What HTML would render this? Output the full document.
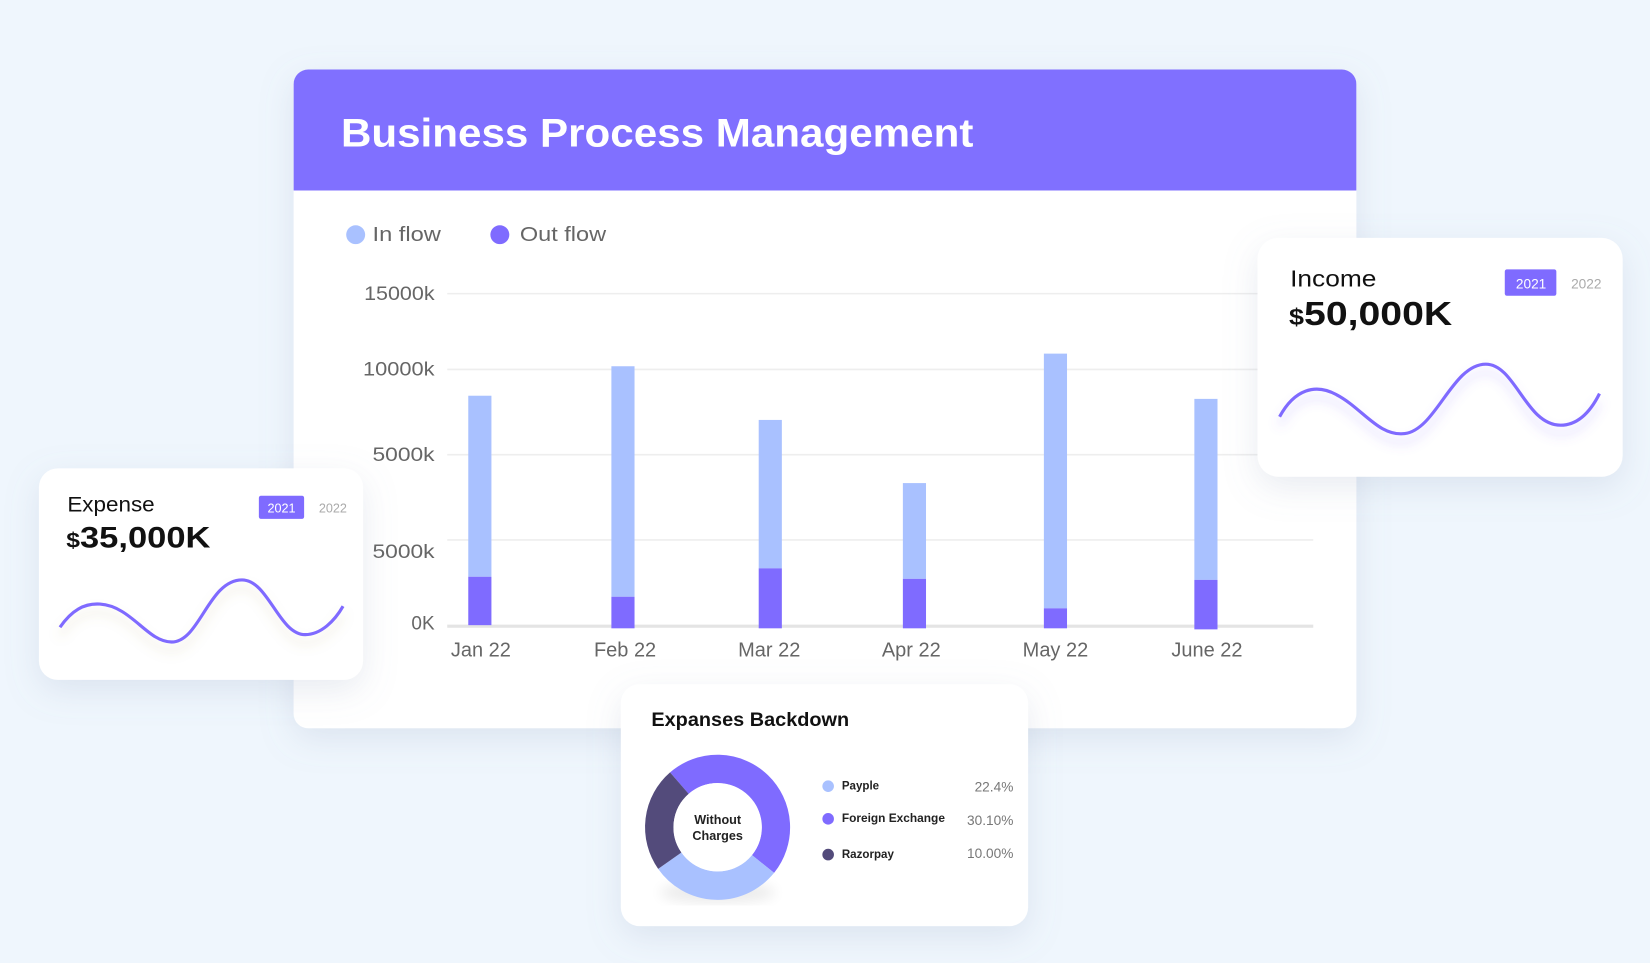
<!DOCTYPE html>
<html><head><meta charset="utf-8"><style>
html,body{margin:0;padding:0;background:#eff6fd;}
svg{display:block;font-family:"Liberation Sans",sans-serif;}
</style></head><body>
<svg width="1650" height="963" viewBox="0 0 1568 915" preserveAspectRatio="none" xmlns="http://www.w3.org/2000/svg">
<defs>
<filter id="sh" x="-20%" y="-20%" width="140%" height="150%"><feDropShadow dx="0" dy="10" stdDeviation="16" flood-color="#8090b0" flood-opacity="0.18"/></filter>
<filter id="wsh" x="-10%" y="-30%" width="120%" height="180%"><feDropShadow dx="0" dy="8" stdDeviation="5" flood-color="#7f6bff" flood-opacity="0.3"/></filter>
<filter id="wsh2" x="-10%" y="-30%" width="120%" height="180%"><feDropShadow dx="0" dy="8" stdDeviation="5" flood-color="#b0a060" flood-opacity="0.25"/></filter>
<filter id="bl"><feGaussianBlur stdDeviation="6"/></filter>
<clipPath id="mc"><rect x="279" y="66" width="1010" height="626" rx="14"/></clipPath>
</defs>
<rect width="1568" height="915" fill="#eff6fd"/>
<g filter="url(#sh)"><rect x="279" y="66" width="1010" height="626" rx="14" fill="#fff"/></g>
<g clip-path="url(#mc)"><rect x="279" y="66" width="1010" height="115" fill="#8070ff"/></g>
<text x="324" y="139" font-size="38" font-weight="bold" fill="#fff" textLength="601" lengthAdjust="spacingAndGlyphs">Business Process Management</text>
<circle cx="338" cy="223" r="9" fill="#a9c1ff"/>
<text x="354" y="229" font-size="19" fill="#666" textLength="65" lengthAdjust="spacingAndGlyphs">In flow</text>
<circle cx="475" cy="223" r="9" fill="#7f6bff"/>
<text x="494" y="229" font-size="19" fill="#666" textLength="82" lengthAdjust="spacingAndGlyphs">Out flow</text>
<g stroke="#eeeeee" stroke-width="1.5">
<line x1="425" y1="279" x2="1248" y2="279"/><line x1="425" y1="351" x2="1248" y2="351"/>
<line x1="425" y1="432" x2="1248" y2="432"/><line x1="425" y1="513" x2="1248" y2="513"/>
</g>
<line x1="425" y1="595" x2="1248" y2="595" stroke="#e4e4e4" stroke-width="3"/>
<g font-size="18" fill="#666" text-anchor="end">
<text x="413" y="285" textLength="67" lengthAdjust="spacingAndGlyphs">15000k</text><text x="413" y="357" textLength="68" lengthAdjust="spacingAndGlyphs">10000k</text>
<text x="413" y="438" textLength="59" lengthAdjust="spacingAndGlyphs">5000k</text><text x="413" y="530" textLength="59" lengthAdjust="spacingAndGlyphs">5000k</text><text x="413" y="598">0K</text>
</g>
<g fill="#a9c1ff">
<rect x="445" y="376" width="22" height="172"/><rect x="581" y="348" width="22" height="219"/>
<rect x="721" y="399" width="22" height="141"/><rect x="858" y="459" width="22" height="91"/>
<rect x="992" y="336" width="22" height="242"/><rect x="1135" y="379" width="22" height="172"/>
</g>
<g fill="#7f6bff">
<rect x="445" y="548" width="22" height="46"/><rect x="581" y="567" width="22" height="30"/>
<rect x="721" y="540" width="22" height="57"/><rect x="858" y="550" width="22" height="47"/>
<rect x="992" y="578" width="22" height="19"/><rect x="1135" y="551" width="22" height="47"/>
</g>
<g font-size="19" fill="#666" text-anchor="middle">
<text x="457" y="624">Jan 22</text><text x="594" y="624">Feb 22</text><text x="731" y="624">Mar 22</text>
<text x="866" y="624">Apr 22</text><text x="1003" y="624">May 22</text><text x="1147" y="624">June 22</text>
</g>
<g filter="url(#sh)"><rect x="1195" y="226" width="347" height="227" rx="20" fill="#fff"/></g>
<text x="1226" y="272" font-size="22" fill="#111" textLength="82" lengthAdjust="spacingAndGlyphs">Income</text>
<rect x="1430" y="256" width="49" height="25" rx="2" fill="#7f6bff"/>
<text x="1455" y="274" font-size="13" fill="#fff" text-anchor="middle">2021</text>
<text x="1493" y="274" font-size="13" fill="#aaa">2022</text>
<text x="1225" y="309" font-size="32" font-weight="bold" fill="#111" textLength="155" lengthAdjust="spacingAndGlyphs"><tspan font-size="22">$</tspan>50,000K</text>
<path d="M1216,396 C1230,370 1250,364 1270,375 C1295,388 1310,415 1335,412 C1365,408 1380,346 1412,346 C1440,346 1450,404 1483,404 C1500,404 1512,390 1520,374" fill="none" stroke="#7f6bff" stroke-width="3" filter="url(#wsh)"/>
<g filter="url(#sh)"><rect x="37" y="445" width="308" height="201" rx="18" fill="#fff"/></g>
<text x="64" y="486" font-size="20" fill="#111" textLength="83" lengthAdjust="spacingAndGlyphs">Expense</text>
<rect x="246" y="471" width="43" height="22" rx="2" fill="#7f6bff"/>
<text x="267.5" y="487" font-size="12" fill="#fff" text-anchor="middle">2021</text>
<text x="303" y="487" font-size="12" fill="#aaa">2022</text>
<text x="63" y="520" font-size="28" font-weight="bold" fill="#111" textLength="137" lengthAdjust="spacingAndGlyphs"><tspan font-size="20">$</tspan>35,000K</text>
<path d="M57,596 C68,580 80,573 95,574 C125,576 140,610 163,610 C190,610 198,551 230,551 C255,551 265,603 290,603 C305,603 318,590 326,576" fill="none" stroke="#7f6bff" stroke-width="3" filter="url(#wsh2)"/>
<g filter="url(#sh)"><rect x="590" y="650" width="387" height="230" rx="18" fill="#fff"/></g>
<text x="619" y="690" font-size="18" font-weight="bold" fill="#111" textLength="188" lengthAdjust="spacingAndGlyphs">Expanses Backdown</text>
<ellipse cx="682" cy="848" rx="55" ry="10" fill="#000" opacity="0.08" filter="url(#bl)"/>
<g fill="none" stroke-width="27">
<path d="M645.6,744.1 A55.5,55.5 0 0 1 725.1,820.9" stroke="#7f6bff"/>
<path d="M725.1,820.9 A55.5,55.5 0 0 1 636.5,817.8" stroke="#a9c1ff"/>
<path d="M636.5,817.8 A55.5,55.5 0 0 1 645.6,744.1" stroke="#534b7b"/>
</g>
<circle cx="682" cy="786" r="42" fill="#fff"/>
<text x="682" y="783" font-size="12" font-weight="bold" fill="#222" text-anchor="middle">Without</text>
<text x="682" y="798" font-size="12" font-weight="bold" fill="#222" text-anchor="middle">Charges</text>
<circle cx="787" cy="747" r="5.5" fill="#a9c1ff"/><text x="800" y="750" font-size="11" font-weight="bold" fill="#222">Payple</text>
<circle cx="787" cy="778" r="5.5" fill="#7f6bff"/><text x="800" y="781" font-size="11" font-weight="bold" fill="#222" textLength="98" lengthAdjust="spacingAndGlyphs">Foreign Exchange</text>
<circle cx="787" cy="812" r="5.5" fill="#534b7b"/><text x="800" y="815" font-size="11" font-weight="bold" fill="#222">Razorpay</text>
<g font-size="13" fill="#777" text-anchor="end">
<text x="963" y="752">22.4%</text><text x="963" y="784">30.10%</text><text x="963" y="815">10.00%</text>
</g>
</svg>
</body></html>
